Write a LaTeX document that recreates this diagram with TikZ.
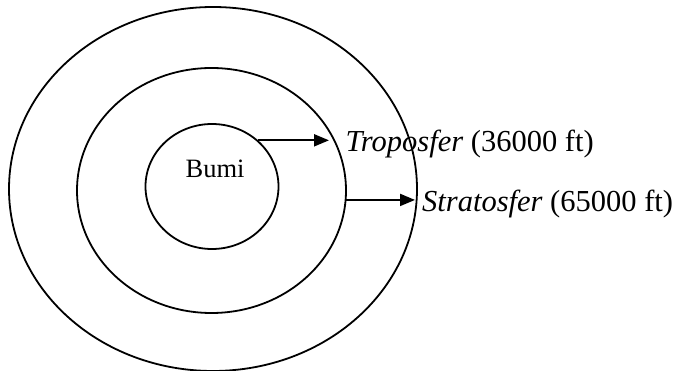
\documentclass[tikz,border=0pt]{standalone}
\usepackage{fontspec}
\setmainfont{Liberation Serif}
\usetikzlibrary{shapes.geometric,arrows.meta}
\begin{document}
\begin{tikzpicture}[x=1pt,y=-1pt,
  ring/.style={draw=black, ellipse, line width=1.8pt, inner sep=0pt},
  arr/.style={line width=2pt, -{Triangle[length=15pt,width=12pt]}},
  lab/.style={anchor=base west, inner sep=0pt, font=\fontsize{30.5}{35}\selectfont}]
\useasboundingbox (0,0) rectangle (677,371);
\fill[white] (0,0) rectangle (677,371);
\node[ring, minimum width=408pt, minimum height=364pt] (outer) at (213,189) {};
\node[ring, minimum width=269pt, minimum height=245pt] (middle) at (211.5,190.5) {};
\node[ring, minimum width=133pt, minimum height=125pt] (inner) at (212,186.5) {};
\node[anchor=base west, inner sep=0pt, font=\fontsize{26.5}{30}\selectfont] (bumi) at (185.5,178) {Bumi};
\node[lab] (tropo) at (345.5,152) {\textit{Troposfer} (36000 ft)};
\node[lab] (strato) at (422,211.5) {\textit{Stratosfer} (65000 ft)};
\coordinate (tend) at (329,141);
\coordinate (send) at (415,200);
\draw[arr] (inner.45) -- (inner.45 -| tend);
\draw[arr] (middle.-4) -- (middle.-4 -| send);
\end{tikzpicture}
\end{document}
